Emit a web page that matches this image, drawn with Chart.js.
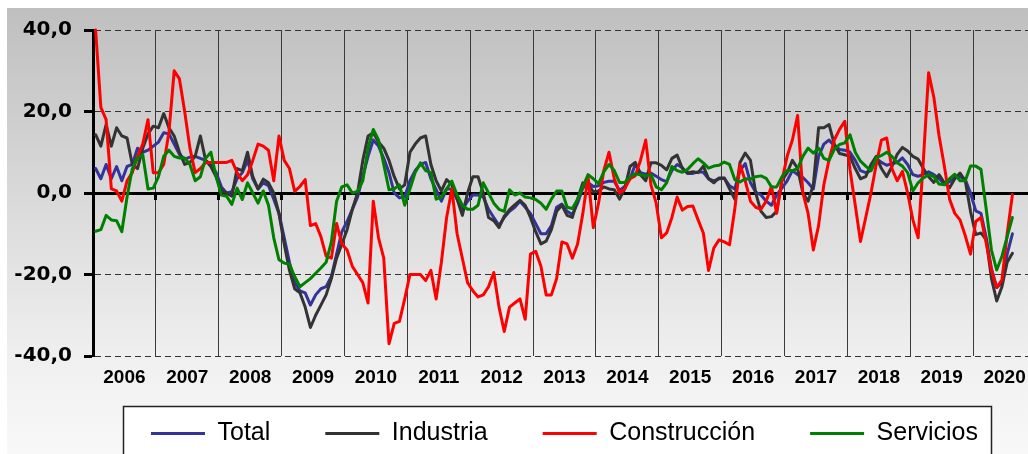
<!DOCTYPE html>
<html><head><meta charset="utf-8">
<script src="https://cdn.jsdelivr.net/npm/chart.js@4.4.1/dist/chart.umd.min.js"></script>
<style>
html,body{margin:0;padding:0;background:#fff;overflow:hidden;width:1028px;height:454px;}
#wrap{position:absolute;left:0;top:0;width:1036px;height:480px;}
</style></head><body>
<div id="wrap"><canvas id="c"></canvas></div>
<script>
const years = ['2006','2007','2008','2009','2010','2011','2012','2013','2014','2015','2016','2017','2018','2019','2020'];
const yTickValues = [-40, -20, 0, 20, 40];
const yTickLabels = ['-40,0', '-20,0', '0,0', '20,0', '40,0'];
const seriesNames = ['Total', 'Industria', 'Construcción', 'Servicios'];

const total = [6,3.5,7,3.5,6.5,3,6.5,7,11,10,10.5,11.5,12.5,14.8,14.5,12,9.5,8.3,8.8,9,8.5,8,7,5,1.5,0,0.3,3.5,5,8,3.5,1,2.5,1.8,-1.5,-5,-11,-17,-22,-24,-24.5,-27.5,-25,-23.5,-23,-20.5,-15,-9.5,-7,-4,-1,4,9,13,11.5,8.5,5,0,-1.2,-1,3,5.5,7,7.5,3.5,0.8,-2,1,1,-1.5,-4,-2,-0.5,-0.5,-1,-4,-6,-8,-6,-4.5,-3.5,-2,-3.5,-5,-7.5,-10,-10,-8,-3.5,-2.7,-4.5,-5.3,-2.5,1.2,2.5,1.6,1.8,2.6,2.9,2.9,0.6,1.6,3.5,7,5,4.6,4.9,4.1,3.3,2.8,5.5,7,6.2,4.8,4.8,5.2,5.1,3.5,3,3.5,3.6,1.8,1,5.5,7.2,2.5,0.2,-0.5,-2,-3,-0.5,1.2,3,5.5,4.5,3.8,2.5,1,9,12,13,11.5,10.7,10.5,10,8,5.5,5,5.5,8.5,7.5,6.8,7.2,7.5,8.6,7,4.5,4.1,4.6,5.2,4.5,3.5,2.2,2.8,4.1,4,3.3,0,-4.4,-5,-11,-18.5,-23.2,-22,-15,-10];
const industria = [14.3,11.5,16.8,11.5,16,14,13.5,7,6,11,14.5,16.4,16,19.5,16,14,10,7,7.5,9,14,8,6.5,4,0.5,0,-0.8,6,5.5,10,4,1,3.4,2.5,0,-5,-12.5,-19,-23.5,-24.5,-28,-33,-30,-27.5,-25,-21,-16,-12.5,-9,-4,0,8,14,14.8,12.5,11,8,4,1,2,10,12,13.5,14,7,3,0.5,3.3,2,-1.5,-5.5,0,4,4,0,-6,-6.8,-8.5,-5.7,-4.1,-2.9,-1.8,-3,-6,-9.5,-12.5,-11.8,-9,-4.5,-3,-5.5,-6,-1.5,2.5,2,0.3,0.5,1.5,1,0.8,-1.5,1,6.5,7.5,4.5,3,7.4,7.4,6.8,5.7,8.5,9.3,6,4.9,5.2,5,6.6,3.5,2.5,3.7,3.7,1,-1.5,7.5,9.8,8,0,-4.5,-6,-5.8,-4.5,3,5,8,6,0,-2,2,16,16,16.8,12,9.7,9.4,9,6,3.5,4,7,9,6,4,6.5,9.5,11.2,10.3,9,8.3,6,4,2.6,4.5,2.5,1.3,3.5,4.9,3,-4.5,-10.2,-9.8,-11.5,-21,-26.5,-23,-17,-14.8];
const construccion = [40,21,18,1,0.5,-2,3,5,9,12,18,5,5,7,15,30,28,20,11,5,6,7.5,7.5,7.5,7.5,7.5,8,5,3,4.5,8,12,11.5,10.5,3,14,8,6,0.4,1.6,3.3,-8,-7.5,-10.7,-15.5,-16,-7.5,-12.5,-14,-18,-20,-22,-27,-2,-11,-16,-37,-32,-31.5,-26,-20,-20,-20,-21.5,-19,-26,-17,-6,1,-10,-16,-22,-24,-25.5,-25,-23,-19.5,-28,-34,-28,-27,-26,-31,-15,-14.3,-18,-25,-25,-21,-12,-12.5,-16,-12.5,-5,4,-8.5,-2.5,5.5,10,3.5,0,1,3.5,4.2,8,13,2,-2.5,-11,-9.8,-6,-1,-4.2,-3.3,-3.2,-6.6,-9.8,-19,-13.5,-11.5,-12,-12.7,-4,7,3,-2,-3.5,-4,-2,1.6,-5,3,9,13,19,0,-5,-14,-8,2,8.2,13,15.6,17.6,5.7,-3,-11.9,-6,0,7,13,13.5,6,3,5.3,0,-6.6,-11,8,29.5,23.5,14,6.6,-1.5,-5,-6.6,-10.5,-15,-7,-6,-12.3,-19,-23.2,-21.3,-10,-0.4];
const servicios = [-9.4,-9,-5.5,-6.6,-6.8,-9.5,-1,6,8.6,9.4,1,1.2,4,9,10.5,9,8.6,8.6,7,3,4,8.5,10,4,-0.5,-0.8,-2.8,1.2,-1.6,2.5,0,-2.5,0.5,-3,-11,-16.4,-17.2,-17.5,-20.5,-23,-22,-21,-19.7,-18.4,-17,-12,-2,1.5,2,0,0.4,3,11,15.6,13,7,0.8,1,2,-3,1,5,7.4,5.5,5,-1.5,-1,1,2.9,-0.5,-3,-4,-4,-3,2.5,0,-2.5,-4,-4.5,0.8,-0.5,0,-1,-1.2,-1.6,-2.5,-4,-1.5,0.5,0.5,-3.5,-3.8,-1.5,1.5,4.5,3.5,2.3,5.2,7,5.5,2.6,2.6,4,4.7,4.5,4.2,4.5,1.5,0.8,2.5,6.5,5.5,5.1,5.8,7.2,8.4,7.4,6.1,6.6,6.8,7.6,7,3.3,2.7,3.5,3.4,4,4.2,3.6,1.5,1.5,4,5.5,5.5,6,9,11,9.8,11,8.5,8,10.7,11.9,12.3,14.3,10,7.8,6.6,5.5,8.6,9.2,10,9,7.4,6.6,5,0.5,2.5,3.7,4.5,4,2.2,2,3.5,4.6,3,3,6.6,6.6,5.8,-4,-14,-18.9,-15.5,-10.7,-6];

const MONTHS_PER_YEAR = 12;
const toPoints = arr => arr.map((v, i) => ({x: i + 0.5, y: v}));

const bgPlugin = {
  id: 'bg',
  afterLayout(chart) {
    const lg = chart.legend;
    if (lg) { lg.top -= 23; lg.bottom -= 23; }
  },
  beforeDraw(chart) {
    const {ctx, width, height} = chart;
    ctx.save();
    ctx.fillStyle = '#fff';
    ctx.fillRect(0, 0, width, height);
    const g = ctx.createLinearGradient(0, 8, 0, 462);
    g.addColorStop(0, 'rgb(191,191,191)');
    g.addColorStop(0.78, 'rgb(240,240,240)');
    g.addColorStop(1, 'rgb(249,249,249)');
    ctx.fillStyle = g;
    ctx.fillRect(7, 8, width - 7, height - 8);
    const lg = chart.legend;
    if (lg && lg.legendHitBoxes && lg.legendHitBoxes.length) {
      const hb = lg.legendHitBoxes;
      const first = hb[0], last = hb[hb.length - 1];
      const x0 = Math.round(first.left - 28) + 0.5;
      const x1 = Math.round(last.left + last.width + 13) + 0.5;
      const y0 = Math.round(first.top + first.height / 2 - 28) + 0.5;
      ctx.fillStyle = '#fff';
      ctx.fillRect(x0, y0, x1 - x0, height - y0 + 5);
      ctx.strokeStyle = '#222';
      ctx.lineWidth = 1.5;
      ctx.strokeRect(x0, y0, x1 - x0, height - y0 + 5);
    }
    ctx.restore();
  }
};

const common = {xAxisID: 'x', yAxisID: 'y', clip: false, pointRadius: 0, borderWidth: 3, tension: 0, borderJoinStyle: 'round', borderCapStyle: 'round'};

new Chart(document.getElementById('c'), {
  type: 'line',
  data: {
    datasets: [
      Object.assign({label: seriesNames[3], data: toPoints(servicios), borderColor: '#008000', backgroundColor: '#008000'}, common),
      Object.assign({label: seriesNames[2], data: toPoints(construccion), borderColor: '#ff0000', backgroundColor: '#ff0000'}, common),
      Object.assign({label: seriesNames[1], data: toPoints(industria), borderColor: '#333333', backgroundColor: '#333333'}, common),
      Object.assign({label: seriesNames[0], data: toPoints(total), borderColor: '#333399', backgroundColor: '#333399'}, common)
    ]
  },
  options: {
    responsive: true,
    maintainAspectRatio: false,
    animation: false,
    devicePixelRatio: 1,
    events: [],
    layout: {padding: {left: 0, right: 0, top: 30, bottom: 1}, autoPadding: false},
    plugins: {
      legend: {
        position: 'bottom', fullSize: false, reverse: true,
        labels: {
          usePointStyle: true, pointStyle: 'line', pointStyleWidth: 54, padding: 55, color: '#000',
          font: {family: '"Liberation Sans", Arial, sans-serif', size: 25}
        }
      },
      tooltip: {enabled: false}
    },
    scales: {
      x: {
        type: 'linear', position: {y: 0}, min: 0, max: years.length * MONTHS_PER_YEAR,
        ticks: {stepSize: MONTHS_PER_YEAR, display: false},
        grid: {color: '#3a3a3a', lineWidth: 1, drawTicks: true, tickLength: 7, tickWidth: 3, tickColor: '#000'},
        border: {display: false}
      },
      xl: {
        type: 'linear', position: 'bottom', min: 0, max: years.length * MONTHS_PER_YEAR,
        afterBuildTicks: s => { s.ticks = years.map((y, k) => ({value: MONTHS_PER_YEAR / 2 + MONTHS_PER_YEAR * k})); },
        afterFit: s => { s.height = 33; },
        ticks: {autoSkip: false, maxRotation: 0, minRotation: 0, padding: 10, color: '#000',
          font: {family: '"Liberation Sans", Arial, sans-serif', weight: 'bold', size: 19},
          callback: (v, i) => years[i]},
        grid: {display: false, drawTicks: false},
        border: {display: false}
      },
      y: {
        min: -40, max: 40,
        afterBuildTicks: s => { s.ticks = yTickValues.map(v => ({value: v})); },
        afterFit: s => { s.width = 93; },
        ticks: {padding: 12, color: '#000',
          font: {family: '"DejaVu Sans", sans-serif', weight: 'bold', size: 20},
          callback: (v, i) => yTickLabels[i]},
        grid: {
          color: c => (c.tick && c.tick.value === 0) ? '#000' : '#333',
          lineWidth: c => (c.tick && c.tick.value === 0) ? 3 : 1,
          tickLength: 9, tickWidth: 3, tickColor: '#000'
        },
        border: {display: true, width: 3, color: '#000', dash: c => (c.tick && c.tick.value === 0) ? [] : [6, 4]}
      }
    }
  },
  plugins: [bgPlugin]
});
</script>
</body></html>
